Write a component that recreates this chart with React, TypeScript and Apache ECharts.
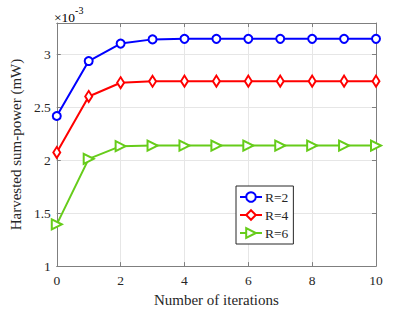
import React, { useEffect, useRef } from "react";
import * as echarts from "echarts";

const iterations = [0, 1, 2, 3, 4, 5, 6, 7, 8, 9, 10];
const seriesNames = ["R=2", "R=4", "R=6"];
// values in units of 1e-3 mW
const r2Values = [2.42, 2.94, 3.105, 3.145, 3.15, 3.15, 3.15, 3.15, 3.15, 3.15, 3.15];
const r4Values = [2.075, 2.605, 2.735, 2.748, 2.75, 2.75, 2.75, 2.75, 2.75, 2.75, 2.75];
const r6Values = [1.395, 2.015, 2.135, 2.14, 2.14, 2.14, 2.14, 2.14, 2.14, 2.14, 2.14];
const xTicks = [0, 2, 4, 6, 8, 10];
const yTicks = [1, 1.5, 2, 2.5, 3];

const FONT = "Liberation Serif";
const TEXT = "#262626";
const AXIS = "#7f7f7f";

export default function App() {
  const ref = useRef<HTMLDivElement>(null);
  useEffect(() => {
    if (!ref.current) return;
    const chart = echarts.init(ref.current, null, { renderer: "svg" });
    const mk = (arr: number[]) => iterations.map((x, i) => [x, arr[i]]);
    const colors = ["#0000ff", "#ff0000", "#66cc1a"];
    const symbols = ["emptyCircle", "emptyDiamond", "emptyTriangle"];
    const sizes: any[] = [8, [7, 11], 10];
    const rotates = [0, 0, -90];
    const datas = [r2Values, r4Values, r6Values];
    const axisCommon = {
      type: "value" as const,
      axisLine: { show: true, onZero: false, lineStyle: { color: AXIS, width: 1 } },
      axisTick: { show: true, inside: true, length: 4, lineStyle: { color: AXIS } },
    };
    chart.setOption({
      animation: false,
      backgroundColor: "#fff",
      grid: { left: 54, top: 23, right: 39, bottom: 40, containLabel: false },
      legend: {
        data: seriesNames,
        orient: "vertical",
        left: 236,
        top: 186,
        width: 62,
        padding: [4, 5, 4, 3],
        itemGap: 4,
        itemWidth: 22,
        itemHeight: 12,
        borderColor: "#262626",
        borderWidth: 1,
        backgroundColor: "#fff",
        textStyle: { fontFamily: FONT, fontSize: 13.5, color: TEXT, padding: [0, 0, 0, -2] },
      },
      xAxis: [
        {
          ...axisCommon,
          min: 0,
          max: 10,
          interval: 2,
          position: "bottom",
          name: "Number of iterations",
          nameLocation: "middle",
          nameGap: 24,
          nameTextStyle: { fontFamily: FONT, fontSize: 15, color: TEXT },
          axisLabel: {
            fontFamily: FONT,
            fontSize: 13.5,
            color: TEXT,
            margin: 7,
            formatter: (v: number) => (xTicks.includes(v) ? String(v) : ""),
          },
          splitLine: { show: true, lineStyle: { color: "#e6e6e6", width: 1 } },
        },
        {
          ...axisCommon,
          min: 0,
          max: 10,
          interval: 2,
          position: "top",
          axisLabel: { show: false },
          splitLine: { show: false },
        },
      ],
      yAxis: [
        {
          ...axisCommon,
          min: 1,
          max: 3.3,
          interval: 0.5,
          position: "left",
          name: "Harvested sum-power (mW)",
          nameLocation: "middle",
          nameGap: 27,
          nameTextStyle: { fontFamily: FONT, fontSize: 15, color: TEXT },
          axisLabel: {
            fontFamily: FONT,
            fontSize: 13.5,
            color: TEXT,
            margin: 6,
            showMaxLabel: false,
            formatter: (v: number) => (yTicks.some((t) => Math.abs(t - v) < 1e-9) ? String(v) : ""),
          },
          splitLine: { show: true, lineStyle: { color: "#e6e6e6", width: 1 } },
        },
        {
          ...axisCommon,
          min: 1,
          max: 3.3,
          interval: 0.5,
          position: "right",
          axisLabel: { show: false },
          splitLine: { show: false },
        },
      ],
      graphic: [
        {
          type: "text",
          left: 54,
          top: 5,
          style: {
            text: "{a|×10}{b|-3}",
            rich: {
              a: { fontFamily: FONT, fontSize: 13.5, color: TEXT, verticalAlign: "bottom", padding: [5, 0, 0, 0] },
              b: { fontFamily: FONT, fontSize: 10, color: TEXT, verticalAlign: "top", padding: [0, 0, 6, 0] },
            },
          },
        },
      ],
      series: seriesNames.map((name, i) => ({
        name,
        type: "line",
        data: mk(datas[i]),
        xAxisIndex: 0,
        yAxisIndex: 0,
        symbol: symbols[i],
        symbolSize: sizes[i],
        symbolRotate: rotates[i],
        showAllSymbol: true,
        lineStyle: { color: colors[i], width: 2 },
        itemStyle: { color: colors[i], borderColor: colors[i], borderWidth: 1.6 },
        z: 3 - i + 2,
      })),
    });
    return () => chart.dispose();
  }, []);
  return <div ref={ref} style={{ width: 415, height: 312, position: "absolute", left: 0, top: 0 }} />;
}
